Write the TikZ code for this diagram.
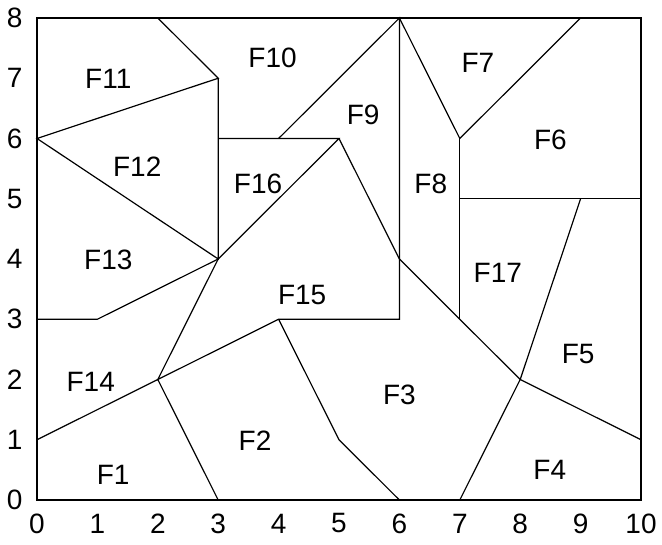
\documentclass[tikz,border=0pt]{standalone}
\usepackage{fontspec}
\setmainfont{Liberation Sans}
\begin{document}
\begin{tikzpicture}[x=60.4pt,y=60.25pt,
  edge/.style={line width=1.2pt},
  frame/.style={line width=1.7pt},
  face/.style={font=\fontsize{28}{31}\selectfont},
  tick/.style={font=\fontsize{28}{31}\selectfont}]
\useasboundingbox (-37pt,-45pt) rectangle (625pt,500pt);
% inner edges
\draw[edge] (2,8) -- (3,7) -- (0,6) -- (3,4) -- (3,7);
\draw[edge] (3,6) -- (5,6) -- (3,4);
\draw[edge] (4,6) -- (6,8) -- (6,3) -- (4,3) -- (2,2) -- (3,4);
\draw[edge] (5,6) -- (6,4) -- (8,2);
\draw[edge] (0,1) -- (2,2) -- (3,0);
\draw[edge] (4,3) -- (5,1) -- (6,0);
\draw[edge] (7,0) -- (8,2) -- (10,1);
\draw[edge] (8,2) -- (9,5);
\draw[edge] (7,5) -- (10,5);
\draw[edge] (6,8) -- (7,6) -- (9,8);
\draw[edge] (7,6) -- (7,3);
\draw[edge] (0,3) -- (1,3) -- (3,4);
% frame
\draw[frame] (0,0) rectangle (10,8);
% face labels
\node[face] (f1) at (1.26,0.41) {F1};
\node[face] (f2) at (3.61,0.98) {F2};
\node[face] (f3) at (6.00,1.74) {F3};
\node[face] (f4) at (8.49,0.50) {F4};
\node[face] (f5) at (8.96,2.42) {F5};
\node[face] (f6) at (8.50,5.98) {F6};
\node[face] (f7) at (7.30,7.25) {F7};
\node[face] (f8) at (6.52,5.24) {F8};
\node[face] (f9) at (5.40,6.39) {F9};
\node[face] (f10) at (3.90,7.33) {F10};
\node[face] (f11) at (1.18,6.99) {F11};
\node[face] (f12) at (1.66,5.53) {F12};
\node[face] (f13) at (1.18,3.98) {F13};
\node[face] (f14) at (0.89,1.96) {F14};
\node[face] (f15) at (4.39,3.41) {F15};
\node[face] (f16) at (3.66,5.24) {F16};
\node[face] (f17) at (7.63,3.77) {F17};
% axis labels
\foreach \i in {0,...,10} \node[tick] (xl\i) at (\i,-0.39) {\i};
\foreach \i in {0,...,8} \node[tick] (yl\i) at (-0.37,\i) {\i};
\end{tikzpicture}
\end{document}
